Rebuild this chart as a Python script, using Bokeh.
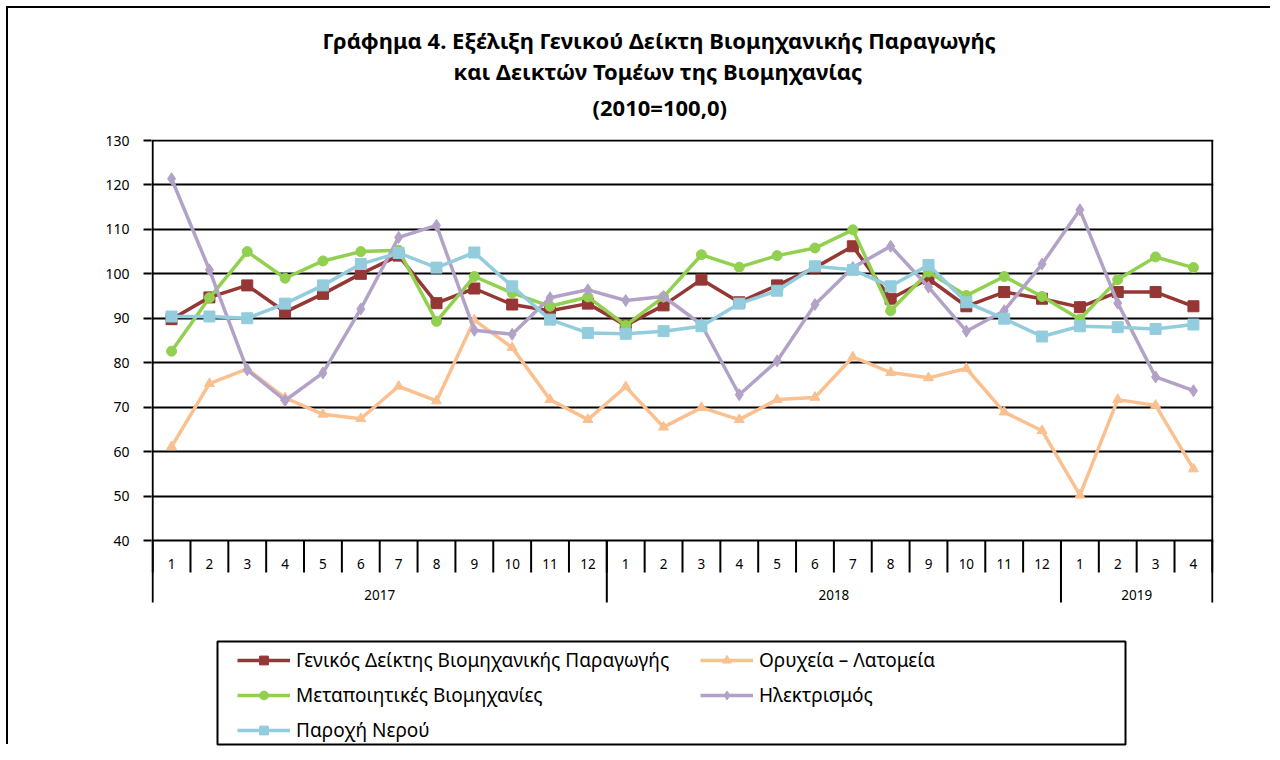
from bokeh.plotting import figure
from bokeh.models import Range1d, FixedTicker, Title, Legend, LegendItem
from bokeh.embed import file_html
from bokeh.resources import INLINE
from bokeh.core.properties import value

# ---------------- data ----------------
months = [1, 2, 3, 4, 5, 6, 7, 8, 9, 10, 11, 12,
          1, 2, 3, 4, 5, 6, 7, 8, 9, 10, 11, 12,
          1, 2, 3, 4]
years = ["2017"] * 12 + ["2018"] * 12 + ["2019"] * 4

genikos = [89.8, 94.7, 97.4, 91.4, 95.5, 100.0, 104.1, 93.4, 96.7, 93.1, 91.7, 93.3,
           88.4, 92.9, 98.7, 93.6, 97.4, 101.4, 106.2, 94.4, 98.9, 92.7, 95.9, 94.4,
           92.5, 95.9, 95.9, 92.7]
oryxeia = [61.1, 75.3, 78.6, 72.1, 68.4, 67.4, 74.7, 71.4, 89.6, 83.4, 71.7, 67.2,
           74.6, 65.5, 69.9, 67.2, 71.7, 72.2, 81.3, 77.8, 76.6, 78.7, 68.9, 64.7,
           50.2, 71.7, 70.4, 56.1]
metapoiitikes = [82.6, 94.6, 105.0, 99.0, 102.9, 105.0, 105.3, 89.3, 99.4, 95.7, 92.7, 94.8,
                 88.4, 94.8, 104.3, 101.5, 104.1, 105.8, 109.9, 91.7, 100.4, 95.1, 99.4, 94.9,
                 89.8, 98.7, 103.8, 101.4]
ilektrismos = [121.4, 100.9, 78.4, 71.5, 77.7, 92.1, 108.2, 110.9, 87.3, 86.4, 94.6, 96.4,
               94.0, 94.9, 88.6, 72.8, 80.4, 93.1, 101.4, 106.2, 97.0, 87.1, 91.7, 102.2,
               114.4, 93.4, 76.8, 73.7]
nero = [90.4, 90.4, 90.0, 93.3, 97.4, 102.2, 104.7, 101.4, 104.8, 97.2, 89.7, 86.7,
        86.5, 87.1, 88.2, 93.3, 96.2, 101.7, 100.9, 97.2, 102.0, 93.6, 89.9, 85.9,
        88.2, 88.0, 87.6, 88.6]

series_names = ["Γενικός Δείκτης Βιομηχανικής Παραγωγής", "Ορυχεία – Λατομεία",
                "Μεταποιητικές Βιομηχανίες", "Ηλεκτρισμός", "Παροχή Νερού"]
y_ticks = [40, 50, 60, 70, 80, 90, 100, 110, 120, 130]

title_lines = ["Γράφημα 4. Εξέλιξη Γενικού Δείκτη Βιομηχανικής Παραγωγής",
               "και Δεικτών Τομέων της Βιομηχανίας",
               "(2010=100,0)"]

# ---------------- layout / styling ----------------
FONT = "Noto Sans"
W, H = 1264, 738
ORIGIN = 8                         # canvas origin on the page
FRAME_L, FRAME_R, FRAME_T, FRAME_B = 151, 1213, 139, ORIGIN + H   # page px
Y_MIN, Y_MAX = 40, 130
Y40_PX = 540
PX_PER_UNIT = 400 / 90.0           # 90 units over 400 px
PAD_X = 0.03                       # ~1px so the edge lines are not clipped

n = len(months)
x = list(range(1, n + 1))
X_LO, X_HI = 0.5 - PAD_X, n + 0.5 + PAD_X
PXU_X = (FRAME_R - FRAME_L) / (X_HI - X_LO)


def y_at(px):
    """data y of a page pixel row"""
    return Y_MIN + (Y40_PX - px) / PX_PER_UNIT


def x_at(px):
    """data x of a page pixel column"""
    return X_LO + (px - FRAME_L) / PXU_X


Y_AXIS_BOTTOM = y_at(602)

p = figure(width=W, height=H, title=None,
           x_range=Range1d(X_LO, X_HI),
           y_range=Range1d(y_at(FRAME_B), y_at(FRAME_T)),
           x_axis_location=None, y_axis_location="left",
           toolbar_location=None, output_backend="svg",
           min_border_left=FRAME_L - ORIGIN, min_border_right=W + ORIGIN - FRAME_R,
           min_border_top=FRAME_T - ORIGIN, min_border_bottom=0)
p.outline_line_color = None
p.background_fill_color = "white"
p.border_fill_color = "white"
# page offset and the outer chart border (left and top visible in the original)
p.styles = {"margin-left": f"{ORIGIN}px", "margin-top": f"{ORIGIN}px",
            "box-shadow": "-2px -2px 0 0 black", "background-color": "white"}

# y axis (line drawn separately so that it stops at the category table)
yax = p.yaxis[0]
yax.ticker = FixedTicker(ticks=y_ticks)
yax.minor_tick_line_color = None
yax.major_tick_in = 0
yax.major_tick_out = 8
yax.major_tick_line_width = 2
yax.major_tick_line_color = "black"
yax.axis_line_color = None
yax.major_label_text_font = FONT
yax.major_label_text_font_size = "14px"
yax.major_label_text_color = "black"
yax.major_label_standoff = 14

p.xgrid.visible = False
p.ygrid.ticker = FixedTicker(ticks=y_ticks)
p.ygrid.grid_line_color = "black"
p.ygrid.grid_line_width = 2

# frame sides
edges = [0.5, n + 0.5]
p.segment(x0=edges, x1=edges, y0=[Y_MAX] * 2, y1=[Y_AXIS_BOTTOM] * 2,
          line_color="black", line_width=2)

# category table below the 40 line
bounds = [i + 0.5 for i in range(n + 1)]
p.segment(x0=bounds, x1=bounds, y0=[Y_MIN] * len(bounds), y1=[y_at(572)] * len(bounds),
          line_color="black", line_width=2)
year_edges = [i + 0.5 for i in range(1, n) if years[i] != years[i - 1]]
p.segment(x0=year_edges, x1=year_edges, y0=[Y_MIN] * len(year_edges),
          y1=[Y_AXIS_BOTTOM] * len(year_edges), line_color="black", line_width=2)
p.text(x=x, y=[y_at(563)] * n, text=[str(m) for m in months],
       text_font=value(FONT), text_font_size="13.5px", text_color="black",
       text_align="center", text_baseline="middle")
uniq_years = sorted(set(years))
year_centers = [(x[years.index(yr)] + x[n - 1 - years[::-1].index(yr)]) / 2 for yr in uniq_years]
p.text(x=year_centers, y=[y_at(594)] * len(uniq_years), text=uniq_years,
       text_font=value(FONT), text_font_size="13.5px", text_color="black",
       text_align="center", text_baseline="middle")

# series
colors = ["#953735", "#FAC090", "#92D050", "#B3A2C7", "#93CDDD"]
markers = ["square", "triangle", "circle", "diamond", "square"]
sizes = [11, 10, 10, 12, 11]
data = [genikos, oryxeia, metapoiitikes, ilektrismos, nero]
items = []
for name, vals, c, m, s in zip(series_names, data, colors, markers, sizes):
    lr = p.line(x, vals, line_color=c, line_width=3.5)
    sr = p.scatter(x, vals, marker=m, size=s, fill_color=c, line_color=c)
    items.append(LegendItem(label=name, renderers=[lr, sr]))

# legend box + two legend columns (row-major order like the original)
p.quad(left=[x_at(217)], right=[x_at(1125)], top=[y_at(641)], bottom=[y_at(744)],
       fill_color="white", line_color="black", line_width=2, level="annotation")
leg_kw = dict(orientation="vertical", margin=0, padding=0, spacing=9,
              glyph_width=53, glyph_height=22, label_standoff=6,
              label_text_font=FONT, label_text_font_size="19px", label_text_color="black",
              border_line_color=None, background_fill_color=None, background_fill_alpha=0)
col1 = items[0::2]
col2 = items[1::2]
ROW_TOP = 647
ROW_H = 26


def legend_bottom_offset(k):
    bottom = ROW_TOP + k * ROW_H + (k - 1) * leg_kw["spacing"]
    return FRAME_B - bottom


p.add_layout(Legend(items=col1, location=(237 - FRAME_L, legend_bottom_offset(len(col1))),
                    **leg_kw), "center")
p.add_layout(Legend(items=col2, location=(700 - FRAME_L, legend_bottom_offset(len(col2))),
                    **leg_kw), "center")

# title: a small spacer next to the frame, then the lines (added nearest-first);
# left aligned with offsets so that every line is centred at ~658px
p.add_layout(Title(text=" ", text_font_size="1px", standoff=10), "above")
offsets = [441, 302, 171]
standoffs = [9, -1, 0]
for txt, off, so in zip(title_lines[::-1], offsets, standoffs):
    p.add_layout(Title(text=txt, align="left", offset=off, text_font=FONT,
                       text_font_size="22px", text_font_style="bold",
                       text_color="black", standoff=so), "above")

open("out.html", "w").write(file_html(p, INLINE))
